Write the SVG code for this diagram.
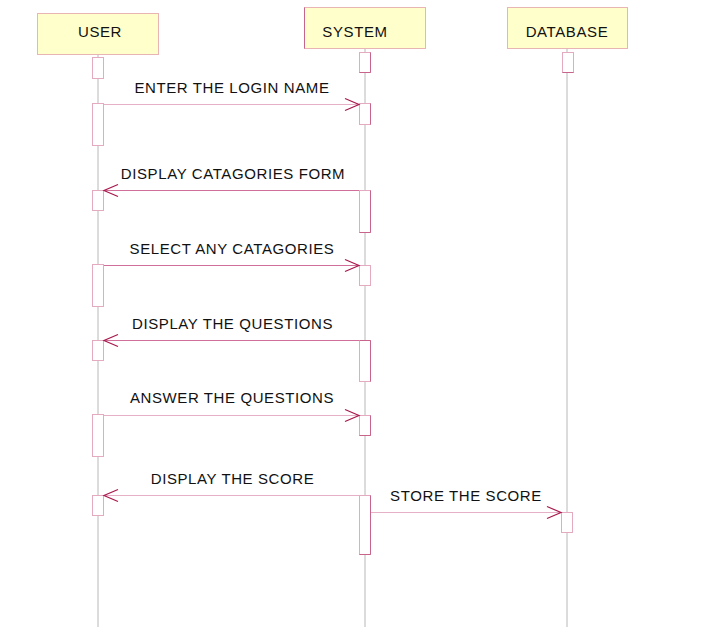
<svg xmlns="http://www.w3.org/2000/svg" width="712" height="634" viewBox="0 0 712 634">
<style>
.head{fill:#ffffcc;stroke:#e8b4b4;stroke-width:1}
.htxt{font-family:"Liberation Sans",Arial,sans-serif;font-size:15px;fill:#111;text-anchor:middle;letter-spacing:0.6px}
.life{stroke:#b8b8b8;stroke-width:1;fill:none}
.act{fill:#ffffff;stroke:#e4aac0;stroke-width:1}
.actd{fill:none;stroke:#c8648c;stroke-width:1}
.msg{stroke:#e6b0c6;stroke-width:1;fill:none}
.ret{stroke:#d0709a;stroke-width:1;fill:none}
.ah{stroke:#a8184c;stroke-width:1.2;fill:none}
.mtxt{font-family:"Liberation Sans",Arial,sans-serif;font-size:15px;fill:#111;text-anchor:middle;letter-spacing:0.6px}
</style>
<rect width="712" height="634" fill="#ffffff"/>
<g id="lifelines">
<line class="life" x1="98" y1="54" x2="98" y2="627"/>
<line class="life" x1="365" y1="49" x2="365" y2="627"/>
<line class="life" x1="567" y1="49" x2="567" y2="627"/>
</g>
<g id="user">
<rect class="head" x="37.5" y="13.5" width="121" height="41"/>
<text class="htxt" x="100" y="37">USER</text>
<rect class="act" x="92.5" y="57.5" width="11" height="21"/>
<rect class="act" x="92.5" y="103.5" width="11" height="42"/>
<rect class="act" x="92.5" y="190.5" width="11" height="20"/>
<rect class="act" x="92.5" y="264.5" width="11" height="42"/>
<rect class="act" x="92.5" y="340.5" width="11" height="20"/>
<rect class="act" x="92.5" y="414.5" width="11" height="42"/>
<rect class="act" x="92.5" y="495.5" width="11" height="20"/>
</g>
<g id="system">
<rect class="head" x="304.5" y="7.5" width="121" height="41"/>
<line class="actd" x1="304.5" y1="7.5" x2="304.5" y2="48.5"/>
<text class="htxt" x="355" y="37">SYSTEM</text>
<rect class="act" x="359.5" y="52.5" width="11" height="20"/>
<polyline class="actd" points="370.5,52.5 370.5,72.5 359.5,72.5"/>
<rect class="act" x="359.5" y="103.5" width="11" height="21"/>
<polyline class="actd" points="370.5,103.5 370.5,124.5"/>
<rect class="act" x="359.5" y="190.5" width="11" height="42"/>
<polyline class="actd" points="370.5,190.5 370.5,232.5 359.5,232.5"/>
<rect class="act" x="359.5" y="265.5" width="11" height="20"/>
<rect class="act" x="359.5" y="340.5" width="11" height="41"/>
<polyline class="actd" points="359.5,340.5 370.5,340.5 370.5,381.5"/>
<rect class="act" x="359.5" y="415.5" width="11" height="20"/>
<polyline class="actd" points="370.5,415.5 370.5,435.5 359.5,435.5"/>
<rect class="act" x="359.5" y="495.5" width="11" height="59"/>
<polyline class="actd" points="370.5,495.5 370.5,554.5 359.5,554.5"/>
</g>
<g id="database">
<rect class="head" x="507.5" y="7.5" width="120" height="41"/>
<text class="htxt" x="567" y="37">DATABASE</text>
<rect class="act" x="562.5" y="52.5" width="11" height="20"/>
<polyline class="actd" points="562.5,72.5 573.5,72.5"/>
<rect class="act" x="561.5" y="512.5" width="11" height="20"/>
</g>
<g id="connectors">
<line class="msg" x1="104" y1="104.5" x2="359" y2="104.5"/>
<polyline class="ah" points="345,98.5 359,104.5 345,110.5"/>
<text class="mtxt" x="232" y="93">ENTER THE LOGIN NAME</text>

<line class="ret" x1="359" y1="190.5" x2="104" y2="190.5"/>
<polyline class="ah" points="118,184.5 104,190.5 118,196.5"/>
<text class="mtxt" x="233" y="179">DISPLAY CATAGORIES FORM</text>

<line class="ret" x1="104" y1="265.5" x2="359" y2="265.5"/>
<polyline class="ah" points="345,259.5 359,265.5 345,271.5"/>
<text class="mtxt" x="232" y="254">SELECT ANY CATAGORIES</text>

<line class="ret" x1="359" y1="340.5" x2="104" y2="340.5"/>
<polyline class="ah" points="118,334.5 104,340.5 118,346.5"/>
<text class="mtxt" x="232.5" y="329">DISPLAY THE QUESTIONS</text>

<line class="msg" x1="104" y1="415.5" x2="359" y2="415.5"/>
<polyline class="ah" points="345,409.5 359,415.5 345,421.5"/>
<text class="mtxt" x="232" y="403">ANSWER THE QUESTIONS</text>

<line class="msg" x1="359" y1="495.5" x2="104" y2="495.5"/>
<polyline class="ah" points="118,489.5 104,495.5 118,501.5"/>
<text class="mtxt" x="232.5" y="484">DISPLAY THE SCORE</text>

<line class="msg" x1="371" y1="512.5" x2="561" y2="512.5"/>
<polyline class="ah" points="547,506.5 561,512.5 547,518.5"/>
<text class="mtxt" x="466" y="501">STORE THE SCORE</text>
</g>
</svg>
